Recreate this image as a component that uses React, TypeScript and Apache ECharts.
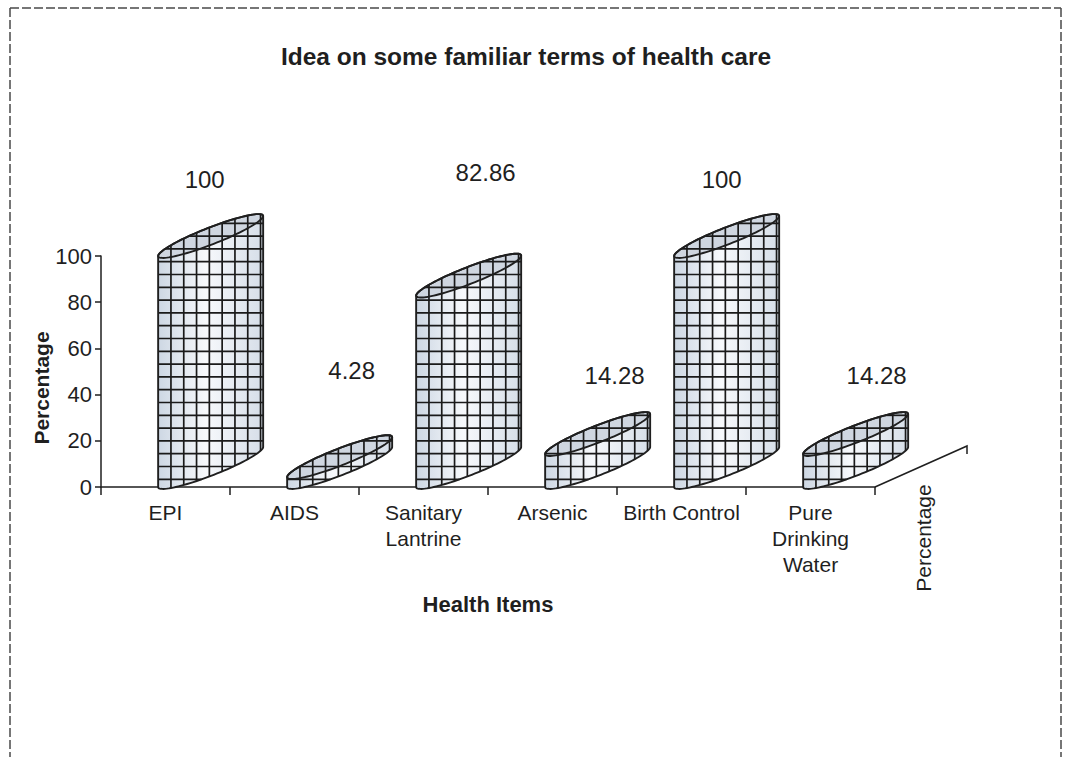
import React, { useEffect, useRef } from "react";
import * as echarts from "echarts";

// Health items on the category axis
const categories = [
  "EPI",
  "AIDS",
  "Sanitary\nLantrine",
  "Arsenic",
  "Birth Control",
  "Pure\nDrinking\nWater",
];

// Share of respondents familiar with each term (%)
const percentages = [100, 4.28, 82.86, 14.28, 100, 14.28];

// Value-axis ticks
const yMin = 0;
const yMax = 100;
const yStep = 20;

// Where each value label sits relative to the centre of its cylinder top (px)
const labelShift: [number, number][] = [
  [-6, -57],
  [12, -87],
  [17, -103],
  [17, -59],
  [-5, -57],
  [21, -59],
];

const FONT = "'Liberation Sans', Arial, Helvetica, sans-serif";
const INK = "#1f1f1f";

type Pt = [number, number];

function convexHull(points: Pt[]): Pt[] {
  const pts = points.slice().sort((a, b) => (a[0] === b[0] ? a[1] - b[1] : a[0] - b[0]));
  const cross = (o: Pt, a: Pt, b: Pt) =>
    (a[0] - o[0]) * (b[1] - o[1]) - (a[1] - o[1]) * (b[0] - o[0]);
  const lower: Pt[] = [];
  for (const p of pts) {
    while (lower.length >= 2 && cross(lower[lower.length - 2], lower[lower.length - 1], p) <= 0) lower.pop();
    lower.push(p);
  }
  const upper: Pt[] = [];
  for (let i = pts.length - 1; i >= 0; i--) {
    const p = pts[i];
    while (upper.length >= 2 && cross(upper[upper.length - 2], upper[upper.length - 1], p) <= 0) upper.pop();
    upper.push(p);
  }
  upper.pop();
  lower.pop();
  return lower.concat(upper);
}

// Extent of a convex polygon along a horizontal (y = c) or vertical (x = c) line
function span(poly: Pt[], horizontal: boolean, c: number): [number, number] | null {
  let lo = Infinity;
  let hi = -Infinity;
  for (let i = 0; i < poly.length; i++) {
    const p = poly[i];
    const q = poly[(i + 1) % poly.length];
    const a = horizontal ? p[1] : p[0];
    const b = horizontal ? q[1] : q[0];
    if (a === b) continue;
    if ((a - c) * (b - c) <= 0) {
      const t = (c - a) / (b - a);
      const o = horizontal ? p[0] + t * (q[0] - p[0]) : p[1] + t * (q[1] - p[1]);
      lo = Math.min(lo, o);
      hi = Math.max(hi, o);
    }
  }
  return lo < hi ? [lo, hi] : null;
}

function renderCylinder(params: any, api: any) {
  const idx = api.value(0);
  const v = api.value(1);
  const [xc, yv] = api.coord([idx, v]);
  const y0 = api.coord([idx, 0])[1];
  const band = api.size([1, 0])[0];

  // oblique cylinder: shifted back into the depth, tilted elliptical ends
  const cx = xc + band * 0.35;
  const R = band * 0.407; // half of horizontal extent
  const T = band * 0.155; // vertical lift of the right end over the left end / 2
  const Ry = band * 0.17; // half of vertical extent of an end ellipse
  const P = R * R;
  const Q = Ry * Ry;
  const S = T * R;
  const D = Math.hypot(P - Q, 2 * S);
  const A = Math.sqrt((P + Q + D) / 2);
  const B = Math.sqrt(Math.max((P + Q - D) / 2, 0));
  const th = Math.atan2(2 * S, P - Q) / 2;
  const ct = Math.cos(th);
  const st = Math.sin(th);

  const ellipse = (cy: number): Pt[] => {
    const pts: Pt[] = [];
    const n = 96;
    for (let k = 0; k < n; k++) {
      const t = (2 * Math.PI * k) / n;
      pts.push([
        cx + A * ct * Math.cos(t) + B * st * Math.sin(t),
        cy - A * st * Math.cos(t) + B * ct * Math.sin(t),
      ]);
    }
    return pts;
  };

  const topCy = yv - T;
  const top = ellipse(topCy);
  const base = ellipse(y0 - T);
  const hull = convexHull(top.concat(base));

  let xmin = Infinity, xmax = -Infinity, ymin = Infinity;
  for (const p of hull) {
    xmin = Math.min(xmin, p[0]);
    xmax = Math.max(xmax, p[0]);
    ymin = Math.min(ymin, p[1]);
  }

  const step = 12.8;
  const gridStyle = { stroke: "#1a1a1a", lineWidth: 1.7 };
  const grid: any[] = [];
  for (let x = xmin + step; x < xmax - 1; x += step) {
    const s = span(hull, false, x);
    if (s) grid.push({ type: "line", shape: { x1: x, y1: s[0], x2: x, y2: s[1] }, style: gridStyle, silent: true });
  }
  for (let y = y0 - step * 0.6; y > ymin + 1; y -= step) {
    const s = span(hull, true, y);
    if (s) grid.push({ type: "line", shape: { x1: s[0], y1: y, x2: s[1], y2: y }, style: gridStyle, silent: true });
  }

  const shift = labelShift[params.dataIndex] || [0, -60];

  return {
    type: "group",
    children: [
      {
        type: "polygon",
        shape: { points: hull },
        style: {
          fill: new echarts.graphic.LinearGradient(0, 0, 1, 0, [
            { offset: 0, color: "#cdd7e3" },
            { offset: 0.45, color: "#f7f9fc" },
            { offset: 1, color: "#d6dee8" },
          ]),
          stroke: "none",
        },
      },
      {
        type: "polygon",
        shape: { points: top },
        style: { fill: "#cfd6e0", stroke: "none" },
      },
      ...grid,
      {
        type: "polygon",
        shape: { points: top },
        style: { fill: "none", stroke: INK, lineWidth: 1.9 },
      },
      {
        type: "polygon",
        shape: { points: hull },
        style: { fill: "none", stroke: INK, lineWidth: 1.9 },
      },
      {
        type: "text",
        x: cx + shift[0],
        y: topCy + shift[1],
        style: {
          text: String(percentages[params.dataIndex]),
          fontSize: 24,
          fontFamily: FONT,
          fill: INK,
          align: "center",
          verticalAlign: "middle",
        },
      },
    ],
  };
}

export default function App() {
  const ref = useRef<HTMLDivElement>(null);

  useEffect(() => {
    if (!ref.current) return;
    const chart = echarts.init(ref.current, undefined, { renderer: "svg" });
    const frame = { stroke: "#4a4a4a", lineWidth: 1.5, lineDash: [9, 3] };

    chart.setOption({
      animation: false,
      backgroundColor: "#ffffff",
      textStyle: { fontFamily: FONT },
      grid: {
        left: 101,
        top: 256,
        width: 774,
        height: 231,
        containLabel: false,
        outerBoundsMode: "none",
      },
      xAxis: {
        type: "category",
        data: categories,
        boundaryGap: true,
        axisLine: { show: true, lineStyle: { color: INK, width: 1.5 } },
        axisTick: { show: true, length: 8, lineStyle: { color: INK, width: 1.5 } },
        axisLabel: {
          color: INK,
          fontSize: 21,
          lineHeight: 26,
          margin: 12,
          fontFamily: FONT,
          interval: 0,
        },
        name: "Health Items",
        nameLocation: "middle",
        nameGap: 106,
        nameTextStyle: { color: INK, fontSize: 22, fontWeight: "bold", fontFamily: FONT },
        splitLine: { show: false },
      },
      yAxis: {
        type: "value",
        min: yMin,
        max: yMax,
        interval: yStep,
        axisLine: { show: true, lineStyle: { color: INK, width: 1.5 } },
        axisTick: { show: true, length: 6, lineStyle: { color: INK, width: 1.5 } },
        axisLabel: { color: INK, fontSize: 22, margin: 9, fontFamily: FONT },
        splitLine: { show: false },
      },
      series: [
        {
          type: "custom",
          renderItem: renderCylinder,
          clip: false,
          data: percentages.map((v, i) => [i, v]),
          encode: { x: 0, y: 1 },
          z: 5,
        },
      ],
      graphic: [
        // page frame
        { type: "line", shape: { x1: 10, y1: 8, x2: 1061, y2: 8 }, style: frame, silent: true },
        { type: "line", shape: { x1: 10, y1: 8, x2: 10, y2: 757 }, style: frame, silent: true },
        { type: "line", shape: { x1: 1061, y1: 8, x2: 1061, y2: 757 }, style: frame, silent: true },
        // title
        {
          type: "text",
          x: 526,
          y: 56,
          style: {
            text: "Idea on some familiar terms of health care",
            fontSize: 24.5,
            fontWeight: "bold",
            fontFamily: FONT,
            fill: INK,
            align: "center",
            verticalAlign: "middle",
          },
        },
        // value-axis title
        {
          type: "text",
          x: 41,
          y: 388,
          rotation: Math.PI / 2,
          style: {
            text: "Percentage",
            fontSize: 21,
            fontWeight: "bold",
            fontFamily: FONT,
            fill: INK,
            align: "center",
            verticalAlign: "middle",
          },
        },
        // depth axis
        {
          type: "polyline",
          shape: { points: [[875, 487], [967, 446], [967, 454]] },
          style: { stroke: INK, lineWidth: 1.5, fill: "none" },
          silent: true,
        },
        {
          type: "text",
          x: 923,
          y: 538,
          rotation: Math.PI / 2,
          style: {
            text: "Percentage",
            fontSize: 21,
            fontFamily: FONT,
            fill: INK,
            align: "center",
            verticalAlign: "middle",
          },
        },
      ],
    });

    return () => chart.dispose();
  }, []);

  return (
    <div
      ref={ref}
      style={{ position: "absolute", left: 0, top: 0, width: 1068, height: 757, background: "#fff" }}
    />
  );
}
